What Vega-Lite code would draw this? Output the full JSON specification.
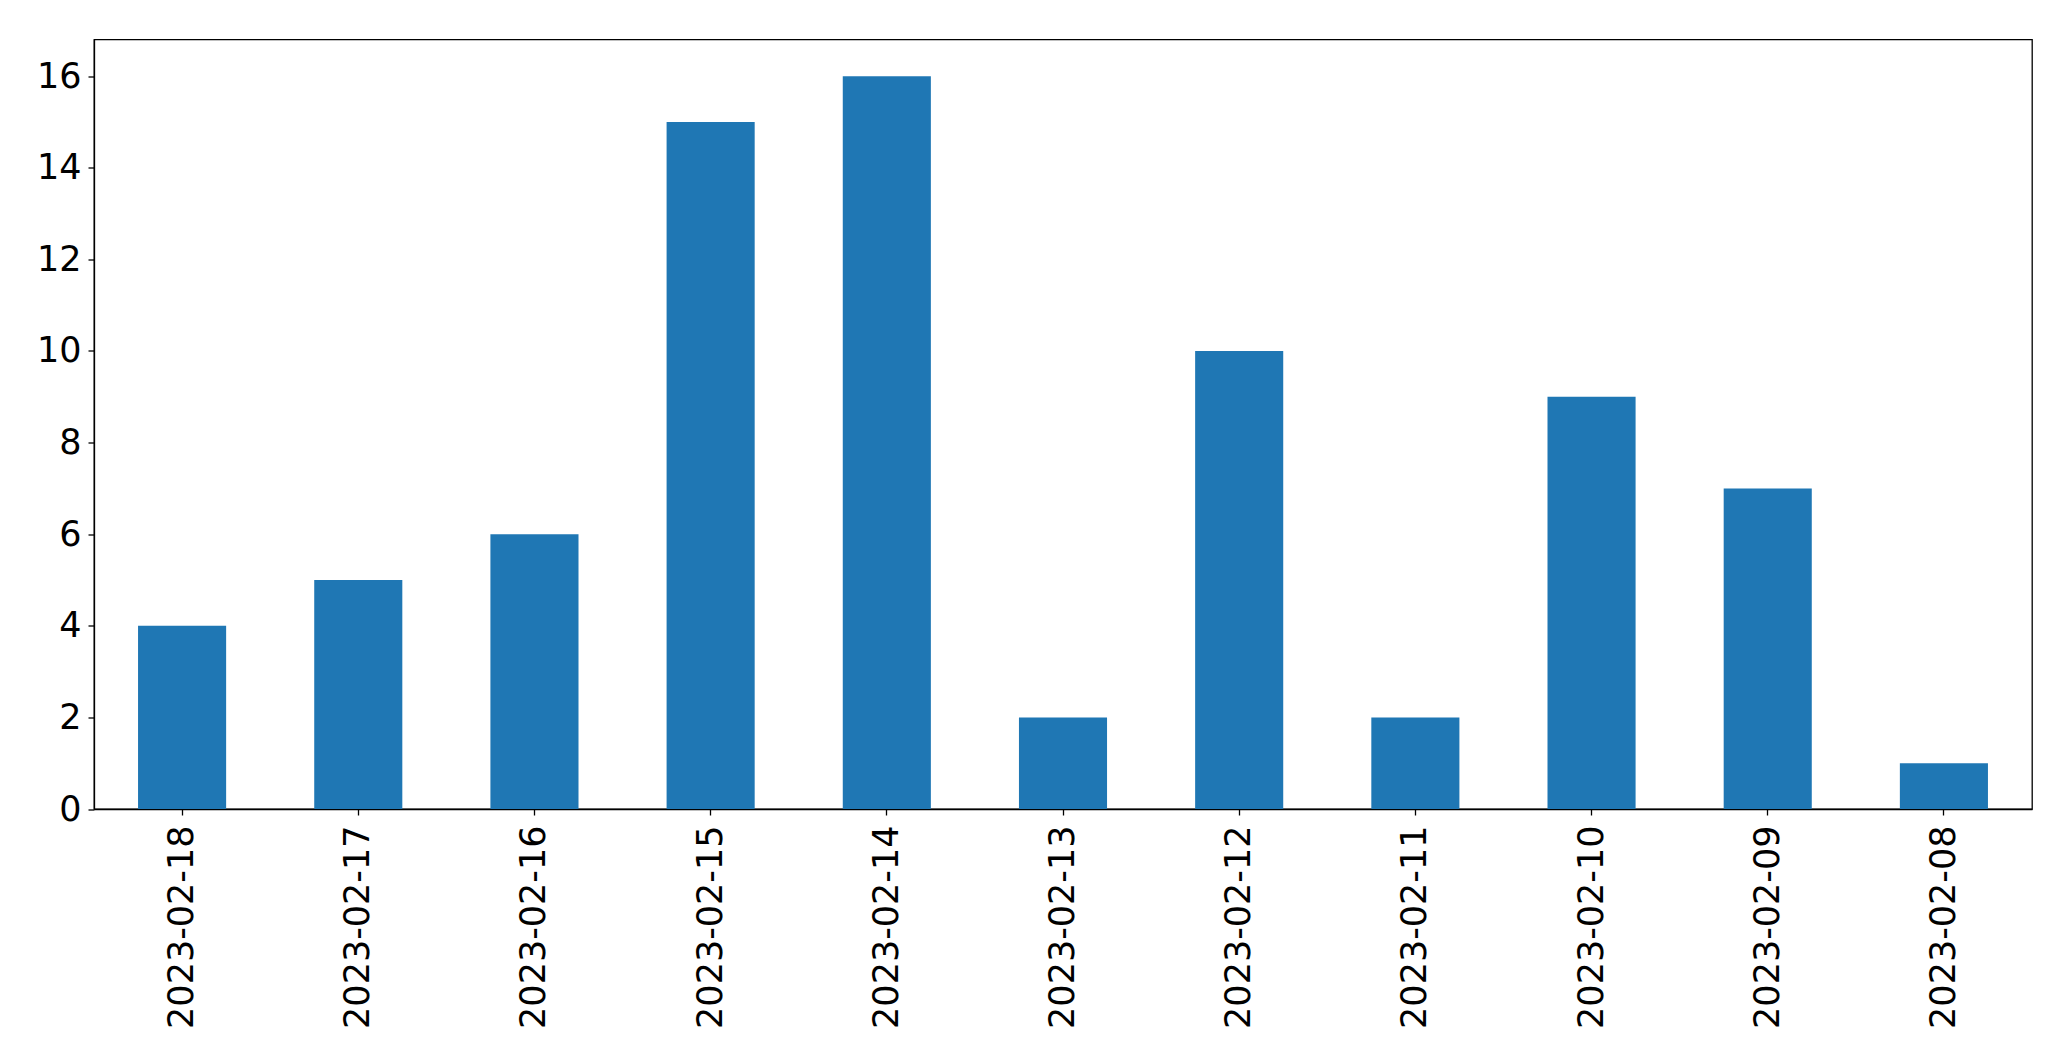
{
  "$schema": "https://vega.github.io/schema/vega-lite/v6.json",
  "autosize": {"type": "none"},
  "padding": {"left": 94, "top": 39.5, "right": 39, "bottom": 252},
  "width": 1938,
  "height": 769.5,
  "background": "white",
  "config": {
    "view": {"stroke": "black", "strokeWidth": 1.3},
    "font": "DejaVu Sans"
  },
  "data": {
    "values": [
      {"date": "2023-02-18", "count": 4},
      {"date": "2023-02-17", "count": 5},
      {"date": "2023-02-16", "count": 6},
      {"date": "2023-02-15", "count": 15},
      {"date": "2023-02-14", "count": 16},
      {"date": "2023-02-13", "count": 2},
      {"date": "2023-02-12", "count": 10},
      {"date": "2023-02-11", "count": 2},
      {"date": "2023-02-10", "count": 9},
      {"date": "2023-02-09", "count": 7},
      {"date": "2023-02-08", "count": 1}
    ]
  },
  "mark": {"type": "bar", "color": "#1f77b4"},
  "encoding": {
    "x": {
      "field": "date",
      "type": "nominal",
      "sort": null,
      "scale": {"paddingInner": 0.5, "paddingOuter": 0.25},
      "axis": {
        "title": null,
        "labelAngle": 270,
        "labelFontSize": 35,
        "labelLimit": 0,
        "labelColor": "black",
        "labelPadding": 10,
        "tickColor": "black",
        "tickSize": 6,
        "tickWidth": 1.3,
        "domainColor": "black",
        "domainWidth": 1.3,
        "grid": false
      }
    },
    "y": {
      "field": "count",
      "type": "quantitative",
      "scale": {"domain": [0, 16.8], "nice": false, "zero": true},
      "axis": {
        "title": null,
        "values": [0, 2, 4, 6, 8, 10, 12, 14, 16],
        "labelFontSize": 35,
        "labelColor": "black",
        "labelPadding": 7,
        "tickColor": "black",
        "tickSize": 6,
        "tickWidth": 1.3,
        "domainColor": "black",
        "domainWidth": 1.3,
        "grid": false
      }
    }
  }
}
